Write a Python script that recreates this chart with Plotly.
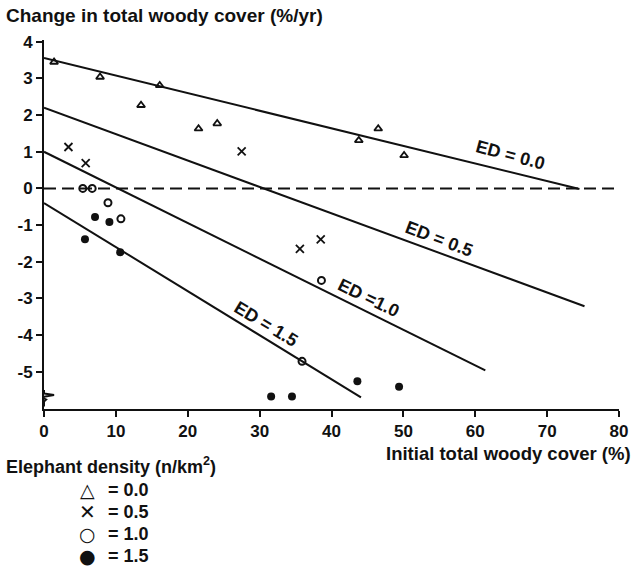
import plotly.graph_objects as go

# Observed plots: initial total woody cover (%) vs change in woody cover (%/yr)
tri_x = [1.4, 7.8, 13.5, 16.1, 21.5, 24.1, 43.8, 46.5, 50.1]
tri_y = [3.45, 3.04, 2.27, 2.81, 1.63, 1.77, 1.31, 1.63, 0.90]

cross_x = [3.4, 5.8, 27.5, 35.6, 38.5]
cross_y = [1.13, 0.69, 1.01, -1.65, -1.39]

open_x = [5.4, 6.7, 8.9, 10.7, 38.6, 35.9]
open_y = [0.0, 0.0, -0.39, -0.83, -2.51, -4.72]

fill_x = [5.7, 7.1, 9.1, 10.6, 43.6, 49.4, 31.6, 34.5]
fill_y = [-1.39, -0.78, -0.92, -1.74, -5.26, -5.41, -5.68, -5.68]

# Fitted regression lines per elephant density: (intercept, slope, x end)
ed_labels = ["ED = 0.0", "ED = 0.5", "ED =1.0", "ED = 1.5"]
ed_intercept = [3.56, 2.20, 1.00, -0.40]
ed_slope = [-0.0480, -0.0720, -0.0972, -0.1202]
ed_xend = [74.5, 75.2, 61.4, 44.1]
# label anchor (x, y) and rotation in degrees
ed_lab_x = [64.9, 55.0, 45.2, 30.9]
ed_lab_y = [0.90, -1.37, -2.98, -3.69]
ed_lab_rot = [15, 21, 26, 31]

legend_sym = ["△", "✕", "○", "●"]
legend_sym_size = [19, 20, 19, 19]
legend_val = ["0.0", "0.5", "1.0", "1.5"]

x_ticks = [0, 10, 20, 30, 40, 50, 60, 70, 80]
y_ticks = [4, 3, 2, 1, 0, -1, -2, -3, -4, -5]

FONT = "Liberation Sans"
BLACK = "#111111"

fig = go.Figure()

# zero reference line (dashed)
fig.add_trace(go.Scatter(x=[0, 80], y=[0, 0], mode="lines",
                         line=dict(color=BLACK, width=2, dash="12px,6px"),
                         showlegend=False, hoverinfo="skip"))

for b, m, xe in zip(ed_intercept, ed_slope, ed_xend):
    fig.add_trace(go.Scatter(x=[0, xe], y=[b, b + m * xe], mode="lines",
                             line=dict(color=BLACK, width=2),
                             showlegend=False, hoverinfo="skip"))

fig.add_trace(go.Scatter(x=tri_x, y=tri_y, mode="markers",
                         marker=dict(symbol="triangle-up-open", size=7, color=BLACK,
                                     line=dict(width=1.8, color=BLACK)),
                         showlegend=False))
fig.add_trace(go.Scatter(x=cross_x, y=cross_y, mode="markers",
                         marker=dict(symbol="x-thin-open", size=8, color=BLACK,
                                     line=dict(width=1.8, color=BLACK)),
                         showlegend=False))
fig.add_trace(go.Scatter(x=open_x, y=open_y, mode="markers",
                         marker=dict(symbol="circle-open", size=7, color=BLACK,
                                     line=dict(width=2, color=BLACK)),
                         showlegend=False))
fig.add_trace(go.Scatter(x=fill_x, y=fill_y, mode="markers",
                         marker=dict(symbol="circle", size=8, color=BLACK),
                         showlegend=False))

for lab, lx, ly, rot in zip(ed_labels, ed_lab_x, ed_lab_y, ed_lab_rot):
    fig.add_annotation(x=lx, y=ly, text=lab, showarrow=False, textangle=rot,
                       font=dict(family=FONT, size=18, color=BLACK, weight=700),
                       xanchor="center", yanchor="middle")

# axis titles
fig.add_annotation(xref="paper", yref="paper", x=-0.07, y=1.0, yshift=25,
                   text="Change in total woody cover (%/yr)", showarrow=False,
                   xanchor="left", yanchor="middle",
                   font=dict(family=FONT, size=19, color=BLACK, weight=700))
fig.add_annotation(xref="paper", yref="paper", x=1.024, y=0, yshift=-44,
                   text="Initial total woody cover (%)", showarrow=False,
                   xanchor="right", yanchor="middle",
                   font=dict(family=FONT, size=18.5, color=BLACK, weight=700))
fig.add_annotation(xref="paper", yref="paper", x=-0.07, y=0, yshift=-56,
                   text="Elephant density (n/km<sup>2</sup>)", showarrow=False,
                   xanchor="left", yanchor="middle",
                   font=dict(family=FONT, size=18, color=BLACK, weight=700))

for i, (sym, ssz, val) in enumerate(zip(legend_sym, legend_sym_size, legend_val)):
    fig.add_annotation(xref="paper", yref="paper", x=0.076, y=0, yshift=-81 - 22 * i,
                       text=sym, showarrow=False, xanchor="center", yanchor="middle",
                       font=dict(family="DejaVu Sans", size=ssz, color=BLACK))
    fig.add_annotation(xref="paper", yref="paper", x=0.108, y=0, yshift=-81 - 22 * i,
                       text="= " + val, showarrow=False,
                       xanchor="left", yanchor="middle",
                       font=dict(family=FONT, size=18, color=BLACK, weight=700))

# axis break mark on the vertical axis
fig.add_shape(type="path", xref="x", yref="y",
              path="M 0,-5.5 L 0,-5.6 L 1.4,-5.64 L -0.4,-5.7 L 0.3,-5.76 L 0,-5.82 L 0,-5.95",
              line=dict(color=BLACK, width=2))

fig.update_xaxes(range=[0, 80], tickvals=x_ticks,
                 ticktext=["<b>%d</b>" % v for v in x_ticks],
                 ticks="outside", ticklen=6,
                 tickwidth=2, tickcolor=BLACK, showline=True, linewidth=2,
                 linecolor=BLACK, showgrid=False, zeroline=False,
                 tickfont=dict(family=FONT, size=17, color=BLACK, weight=700))
fig.update_yaxes(range=[-6.02, 4.05], tickvals=y_ticks,
                 ticktext=["<b>%d</b>" % v for v in y_ticks],
                 ticks="outside", ticklen=6, tickwidth=2, tickcolor=BLACK,
                 showline=True, linewidth=2, linecolor=BLACK, showgrid=False,
                 zeroline=False,
                 tickfont=dict(family=FONT, size=17, color=BLACK, weight=700))

fig.update_layout(width=640, height=573, margin=dict(l=44, r=15, t=40, b=164),
                  plot_bgcolor="white", paper_bgcolor="white", showlegend=False)

fig.write_html("out.html")
